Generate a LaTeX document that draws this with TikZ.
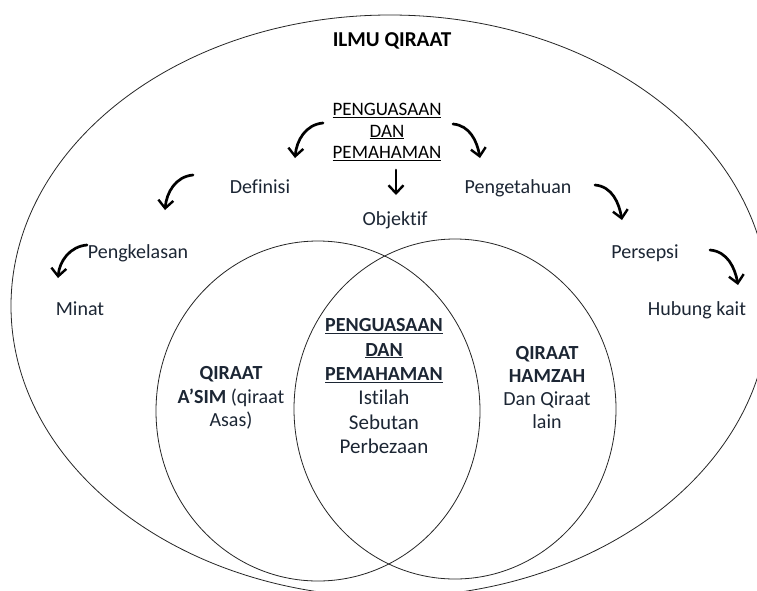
\documentclass[tikz,border=0pt]{standalone}
\usepackage{fontspec}
\setmainfont{Carlito}[Ligatures=NoCommon]
\usetikzlibrary{arrows.meta}
\definecolor{txt}{RGB}{28,38,52}
\begin{document}
\begin{tikzpicture}[x=1pt,y=-1pt,
  lbl/.style={font=\fontsize{20}{23}\selectfont, text=txt, inner sep=0pt, anchor=base},
  toptxt/.style={font=\fontsize{19}{21.5}\selectfont, text=black, inner sep=0pt, align=center, anchor=north},
  venn/.style={font=\fontsize{20}{24.4}\selectfont, text=txt, inner sep=0pt, align=center, anchor=north},
  titletxt/.style={font=\fontsize{21.2}{24}\selectfont\bfseries, text=black, inner sep=0pt, anchor=base},
  curly/.style={line width=2.7pt, line cap=round, -{Straight Barb[length=8pt,width=15pt,line width=2.4pt]}},
  ring/.style={draw=black!85, line width=0.8pt}]
\useasboundingbox (0,0) rectangle (757,590);
\fill[white] (0,0) rectangle (757,590);
\begin{scope}
  \clip (0,0) rectangle (757,590);
  \draw[ring] (390,306) ellipse [x radius=379, y radius=291];
\end{scope}
\draw[ring] (318,411) ellipse [x radius=162, y radius=170];
\draw[ring] (455,409) ellipse [x radius=161, y radius=170];

% texts
\node[titletxt] (ilmu) at (392,46) {ILMU QIRAAT};
\node[toptxt] (pp) at (387,103) {\underline{PENGUASAAN}\\\underline{DAN}\\\underline{PEMAHAMAN}};
\node[lbl] (definisi) at (260,193) {Definisi};
\node[lbl] (pengetahuan) at (518,193) {Pengetahuan};
\node[lbl] (objektif) at (395,225) {Objektif};
\node[lbl] (pengkelasan) at (138,258) {Pengkelasan};
\node[lbl] (persepsi) at (645,258) {Persepsi};
\node[lbl] (minat) at (80,315) {Minat};
\node[lbl] (hubung) at (697,315) {Hubung kait};

\node[venn] (centre) at (384,318.4) {\textbf{\underline{PENGUASAAN}}\\\textbf{\underline{DAN}}\\\textbf{\underline{PEMAHAMAN}}\\{\fontsize{21}{24.4}\selectfont Istilah}\\{\fontsize{21}{24.4}\selectfont Sebutan}\\{\fontsize{21}{24.4}\selectfont Perbezaan}};
\node[venn, font=\fontsize{20}{23.5}\selectfont] (asim) at (231,366.4) {\textbf{QIRAAT}\\\textbf{A’SIM} (qiraat\\Asas)};
\node[venn, font=\fontsize{20}{23}\selectfont] (hamzah) at (547,346.4) {\textbf{QIRAAT}\\\textbf{HAMZAH}\\Dan Qiraat\\lain};

% arrow end points
\coordinate (a1s) at (323,123); \coordinate (a1e) at (295,158);
\coordinate (a2s) at (453,124); \coordinate (a2e) at (480,158);
\coordinate (a3s) at (396,170); \coordinate (a3e) at (396,195);
\coordinate (a4s) at (193,175); \coordinate (a4e) at (165,210);
\coordinate (a5s) at (87,245);  \coordinate (a5e) at (58,278);
\coordinate (a6s) at (595,185); \coordinate (a6e) at (622,220);
\coordinate (a7s) at (710,250); \coordinate (a7e) at (738,285);

\draw[curly] (a1s) to[out=185,in=85] (a1e);
\draw[curly] (a2s) to[out=-5,in=100] (a2e);
\draw[curly] (a3s) -- (a3e);
\draw[curly] (a4s) to[out=185,in=85] (a4e);
\draw[curly] (a5s) to[out=185,in=85] (a5e);
\draw[curly] (a6s) to[out=-5,in=100] (a6e);
\draw[curly] (a7s) to[out=-5,in=100] (a7e);
\end{tikzpicture}
\end{document}
